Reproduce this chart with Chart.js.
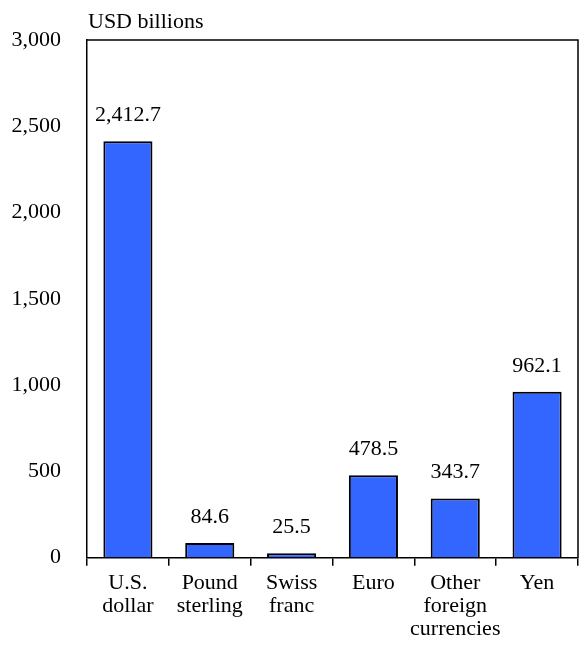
<!DOCTYPE html>
<html><head><meta charset="utf-8">
<script src="https://cdn.jsdelivr.net/npm/chart.js@4"></script>
<style>body{margin:0;background:#fff}#wrap{width:586px;height:653px}</style>
</head><body><div id="wrap"><canvas id="c"></canvas></div>
<script>
const categories = [['U.S.','dollar'],['Pound','sterling'],['Swiss','franc'],['Euro'],['Other','foreign','currencies'],['Yen']];
const values = [2412.7, 84.6, 25.5, 478.5, 343.7, 962.1];
const yTicks = [0, 500, 1000, 1500, 2000, 2500, 3000];
const unitLabel = 'USD billions';
const FONT = '"Liberation Serif", "Times New Roman", serif';
const FS = 22;

const extras = {
  id: 'extras',
  afterDatasetsDraw(chart) {
    const ctx = chart.ctx, a = chart.chartArea;
    const meta = chart.getDatasetMeta(0);
    ctx.save();
    ctx.strokeStyle = '#000'; ctx.lineWidth = 1.5;
    ctx.beginPath();
    ctx.moveTo(a.left, a.top); ctx.lineTo(a.right, a.top); ctx.lineTo(a.right, a.bottom);
    ctx.stroke();
    ctx.fillStyle = '#000';
    ctx.font = FS + 'px ' + FONT;
    ctx.textAlign = 'center'; ctx.textBaseline = 'alphabetic';
    meta.data.forEach((bar, i) => {
      ctx.fillText(values[i].toLocaleString('en-US', {minimumFractionDigits: 1}), bar.x, bar.y - 20);
    });
    ctx.textAlign = 'left';
    ctx.fillText(unitLabel, a.left + 1, a.top - 12);
    ctx.restore();
  }
};

new Chart(document.getElementById('c'), {
  type: 'bar',
  data: { labels: categories, datasets: [{ data: values, backgroundColor: '#3366ff', borderColor: '#000', borderWidth: 2, barPercentage: 0.6, categoryPercentage: 1 }] },
  options: {
    responsive: true, maintainAspectRatio: false, animation: false,
    layout: { padding: { top: 40, right: 8, left: 0, bottom: 6 } },
    plugins: { legend: { display: false }, tooltip: { enabled: false } },
    scales: {
      x: {
        grid: { offset: true, drawOnChartArea: false, tickLength: 8, color: '#000', lineWidth: 1.5 },
        border: { color: '#000', width: 1.5 },
        ticks: { color: '#000', font: { family: FONT, size: FS, lineHeight: 1.05 }, maxRotation: 0, autoSkip: false, padding: 6 }
      },
      y: {
        min: 0, max: 3000,
        afterBuildTicks: s => { s.ticks = yTicks.map(v => ({ value: v })); },
        afterFit: s => { s.width = 87; },
        grid: { drawOnChartArea: false, drawTicks: false },
        border: { color: '#000', width: 1.5 },
        ticks: { color: '#000', font: { family: FONT, size: FS }, padding: 26, callback: v => v.toLocaleString('en-US') }
      }
    }
  },
  plugins: [extras]
});
</script></body></html>
